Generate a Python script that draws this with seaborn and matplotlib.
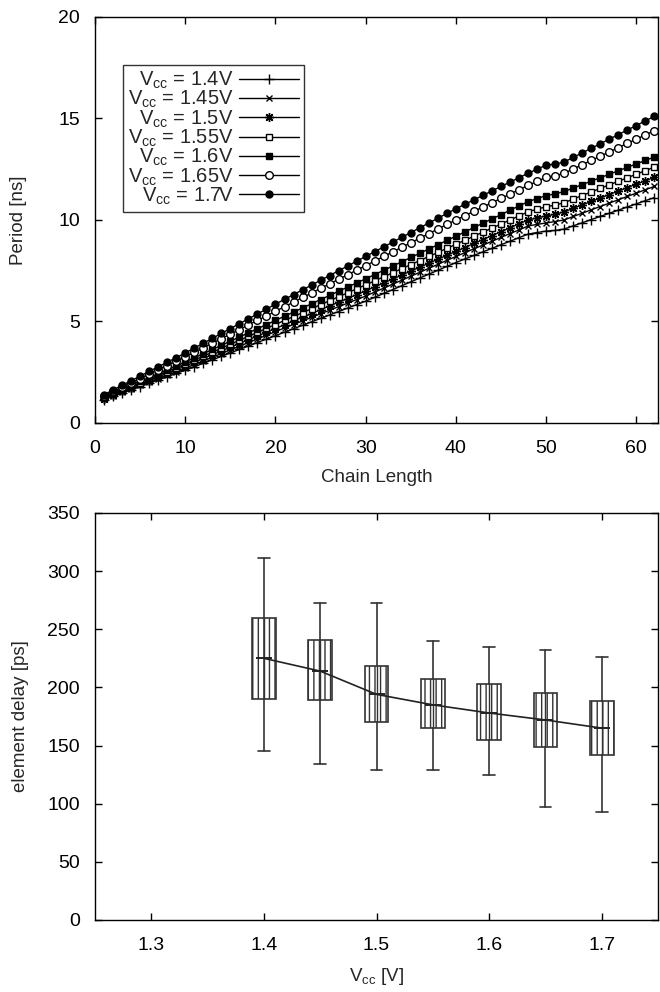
import numpy as np
import pandas as pd
import matplotlib
matplotlib.use("Agg")
import matplotlib.pyplot as plt
import seaborn as sns

# ---------------- data ----------------
chain = list(range(1, 63))
vcc_labels = ["1.4V", "1.45V", "1.5V", "1.55V", "1.6V", "1.65V", "1.7V"]

p_140 = [1.15, 1.31, 1.47, 1.63, 1.79, 1.96, 2.12, 2.28, 2.44, 2.60,
         2.77, 2.94, 3.11, 3.28, 3.45, 3.62, 3.79, 3.96, 4.13, 4.30,
         4.47, 4.64, 4.81, 4.98, 5.15, 5.32, 5.49, 5.66, 5.83, 6.00,
         6.19, 6.38, 6.57, 6.76, 6.95, 7.14, 7.33, 7.52, 7.71, 7.90,
         8.08, 8.25, 8.43, 8.60, 8.78, 8.95, 9.13, 9.30, 9.38, 9.45,
         9.48, 9.55, 9.71, 9.86, 10.02, 10.17, 10.33, 10.48, 10.64, 10.79,
         10.95, 11.10]
p_145 = [1.18, 1.35, 1.52, 1.69, 1.86, 2.02, 2.19, 2.36, 2.53, 2.70,
         2.88, 3.06, 3.24, 3.42, 3.60, 3.78, 3.96, 4.14, 4.32, 4.50,
         4.68, 4.85, 5.03, 5.20, 5.38, 5.55, 5.73, 5.90, 6.08, 6.25,
         6.45, 6.64, 6.84, 7.03, 7.23, 7.42, 7.62, 7.81, 8.01, 8.20,
         8.39, 8.58, 8.76, 8.95, 9.14, 9.33, 9.51, 9.70, 9.78, 9.85,
         9.92, 10.00, 10.17, 10.33, 10.50, 10.66, 10.83, 10.99, 11.16, 11.32,
         11.49, 11.65]
p_150 = [1.20, 1.38, 1.56, 1.73, 1.91, 2.09, 2.27, 2.44, 2.62, 2.80,
         2.99, 3.17, 3.36, 3.54, 3.73, 3.91, 4.10, 4.28, 4.47, 4.65,
         4.84, 5.02, 5.21, 5.39, 5.58, 5.76, 5.95, 6.13, 6.32, 6.50,
         6.70, 6.89, 7.09, 7.28, 7.48, 7.67, 7.87, 8.06, 8.26, 8.45,
         8.64, 8.84, 9.03, 9.23, 9.42, 9.61, 9.81, 10.00, 10.10, 10.20,
         10.28, 10.40, 10.57, 10.74, 10.91, 11.08, 11.25, 11.42, 11.59, 11.76,
         11.93, 12.10]
p_155 = [1.25, 1.43, 1.62, 1.80, 1.98, 2.17, 2.35, 2.53, 2.72, 2.90,
         3.10, 3.29, 3.49, 3.68, 3.88, 4.07, 4.27, 4.46, 4.66, 4.85,
         5.05, 5.24, 5.44, 5.63, 5.83, 6.02, 6.22, 6.41, 6.61, 6.80,
         7.00, 7.20, 7.40, 7.60, 7.80, 8.00, 8.20, 8.40, 8.60, 8.80,
         9.00, 9.20, 9.40, 9.60, 9.80, 10.00, 10.20, 10.40, 10.53, 10.65,
         10.73, 10.85, 11.03, 11.20, 11.38, 11.55, 11.73, 11.90, 12.08, 12.25,
         12.43, 12.60]
p_160 = [1.30, 1.49, 1.68, 1.87, 2.06, 2.24, 2.43, 2.62, 2.81, 3.00,
         3.21, 3.41, 3.62, 3.82, 4.03, 4.23, 4.44, 4.64, 4.85, 5.05,
         5.26, 5.46, 5.67, 5.87, 6.08, 6.28, 6.49, 6.69, 6.90, 7.10,
         7.31, 7.52, 7.73, 7.94, 8.15, 8.36, 8.57, 8.78, 8.99, 9.20,
         9.41, 9.63, 9.84, 10.05, 10.26, 10.48, 10.69, 10.90, 11.05, 11.20,
         11.28, 11.40, 11.57, 11.74, 11.91, 12.08, 12.25, 12.42, 12.59, 12.76,
         12.93, 13.10]
p_165 = [1.35, 1.56, 1.77, 1.98, 2.19, 2.41, 2.62, 2.83, 3.04, 3.25,
         3.48, 3.70, 3.93, 4.15, 4.38, 4.60, 4.83, 5.05, 5.28, 5.50,
         5.73, 5.95, 6.18, 6.40, 6.63, 6.85, 7.08, 7.30, 7.53, 7.75,
         7.98, 8.20, 8.43, 8.65, 8.88, 9.10, 9.33, 9.55, 9.78, 10.00,
         10.21, 10.43, 10.64, 10.85, 11.06, 11.28, 11.49, 11.70, 11.90, 12.10,
         12.18, 12.30, 12.51, 12.72, 12.93, 13.14, 13.35, 13.56, 13.77, 13.98,
         14.19, 14.40]
p_170 = [1.40, 1.63, 1.86, 2.08, 2.31, 2.54, 2.77, 2.99, 3.22, 3.45,
         3.69, 3.93, 4.17, 4.41, 4.65, 4.89, 5.13, 5.37, 5.61, 5.85,
         6.09, 6.32, 6.56, 6.79, 7.03, 7.26, 7.50, 7.73, 7.97, 8.20,
         8.44, 8.67, 8.91, 9.14, 9.38, 9.61, 9.85, 10.08, 10.32, 10.55,
         10.77, 10.99, 11.21, 11.43, 11.65, 11.86, 12.08, 12.30, 12.50, 12.70,
         12.75, 12.85, 13.08, 13.30, 13.53, 13.75, 13.98, 14.20, 14.43, 14.65,
         14.88, 15.10]
periods = [p_140, p_145, p_150, p_155, p_160, p_165, p_170]

# bottom chart: element delay statistics per supply voltage
vcc = [1.40, 1.45, 1.50, 1.55, 1.60, 1.65, 1.70]
whisker_low = [145, 134, 129, 129, 125, 97, 93]
box_low = [190, 189, 170, 165, 155, 149, 142]
median_delay = [225, 214, 194, 185, 178, 172, 165]
box_high = [260, 241, 218, 207, 203, 195, 188]
whisker_high = [311, 273, 273, 240, 235, 232, 226]

# ---------------- style ----------------
sns.set_style("ticks")
plt.rcParams["font.family"] = ["Liberation Sans", "DejaVu Sans"]
plt.rcParams["mathtext.fontset"] = "custom"
plt.rcParams["mathtext.rm"] = "Liberation Sans"
plt.rcParams["mathtext.it"] = "Liberation Sans"
plt.rcParams["axes.edgecolor"] = "black"
plt.rcParams["axes.linewidth"] = 1.0
plt.rcParams["hatch.linewidth"] = 1.0
plt.rcParams["hatch.color"] = "#333333"

fig = plt.figure(figsize=(6.6, 9.92), dpi=100)
ax1 = fig.add_axes([0.144, 0.5736, 0.853, 0.4094])
ax2 = fig.add_axes([0.144, 0.0726, 0.853, 0.4103])

# ---------------- top chart ----------------
marker_specs = [
    dict(marker="+", markerfacecolor="black", markersize=6.5),
    dict(marker="x", markerfacecolor="black", markersize=5),
    dict(marker=(8, 2, 0), markerfacecolor="black", markersize=6.5),
    dict(marker="s", markerfacecolor="white", markersize=5),
    dict(marker="s", markerfacecolor="black", markersize=5),
    dict(marker="o", markerfacecolor="white", markersize=5.5),
    dict(marker="o", markerfacecolor="black", markersize=5),
]
for lab, vals, spec in zip(vcc_labels, periods, marker_specs):
    df = pd.DataFrame({"chain": chain, "period": vals})
    sns.lineplot(data=df, x="chain", y="period", ax=ax1, color="black",
                 linewidth=1.0, markeredgecolor="black", markeredgewidth=1.0,
                 label=r"V$_{\rm cc}$ = " + lab, **spec)

ax1.set_xlim(0, 62.4)
ax1.set_ylim(0, 20)
ax1.set_xticks([0, 10, 20, 30, 40, 50, 60])
ax1.set_yticks([0, 5, 10, 15, 20])
ax1.set_xlabel("Chain Length", fontsize=13.5, labelpad=9)
ax1.set_ylabel("Period [ns]", fontsize=13.5, labelpad=22)
leg = ax1.legend(loc="upper left", bbox_to_anchor=(0.05, 0.882),
                 markerfirst=False, frameon=True, fancybox=False,
                 edgecolor="black", fontsize=14.5, handlelength=3.0,
                 handletextpad=0.25, labelspacing=-0.1, borderpad=0.25,
                 borderaxespad=0.0)
leg.get_frame().set_linewidth(1.0)

# ---------------- bottom chart ----------------
stats = [dict(med=m, q1=lo, q3=hi, whislo=wl, whishi=wh, fliers=[])
         for m, lo, hi, wl, wh in zip(median_delay, box_low, box_high,
                                     whisker_low, whisker_high)]
bp = ax2.bxp(stats, positions=vcc, widths=0.021, patch_artist=True,
             showfliers=False, manage_ticks=False,
             boxprops=dict(facecolor="white", edgecolor="#333333", linewidth=1.2),
             whiskerprops=dict(color="#333333", linewidth=1.2),
             capprops=dict(color="#333333", linewidth=1.2),
             medianprops=dict(linewidth=0))
for b in bp["boxes"]:
    b.set_hatch("|||")
ax2.vlines(vcc, box_low, box_high, color="#333333", linewidth=1.0)
dfm = pd.DataFrame({"vcc": vcc, "delay": median_delay})
sns.lineplot(data=dfm, x="vcc", y="delay", ax=ax2, color="#222222",
             linewidth=1.2, marker="_", markersize=12, markeredgewidth=1.4,
             markeredgecolor="#222222")

ax2.set_xlim(1.25, 1.75)
ax2.set_ylim(0, 350)
ax2.set_xticks([1.3, 1.4, 1.5, 1.6, 1.7])
ax2.set_yticks([0, 50, 100, 150, 200, 250, 300, 350])
ax2.set_xlabel(r"V$_{\rm cc}$ [V]", fontsize=13.5, labelpad=9)
ax2.set_ylabel("element delay [ps]", fontsize=13.5, labelpad=13)

for ax in (ax1, ax2):
    for s in ax.spines.values():
        s.set_visible(True)
        s.set_color("black")
    ax.tick_params(direction="in", length=5, width=1, top=True, right=True,
                   labelsize=14, colors="black")
    ax.tick_params(axis="y", pad=11)
    ax.tick_params(axis="x", pad=12)
    ax.grid(False)

fig.savefig("out.png", dpi=100)
